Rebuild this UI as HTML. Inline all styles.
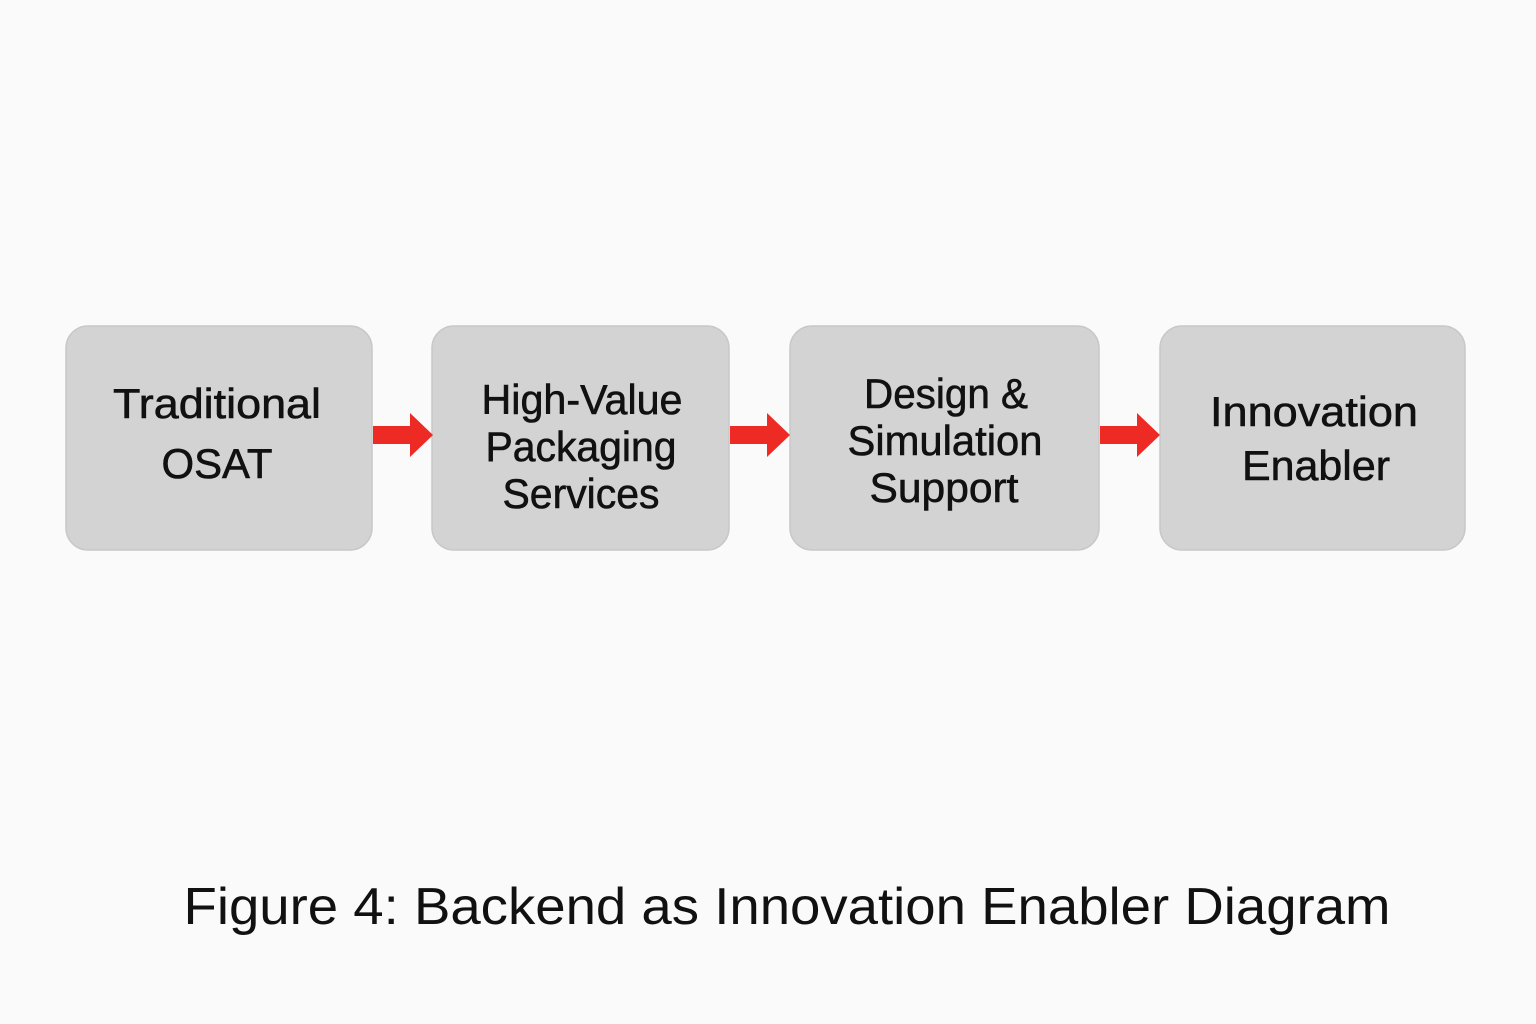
<!DOCTYPE html>
<html><head><style>
html,body{margin:0;padding:0;background:#fafafa;}
svg{display:block}
text{font-family:"Liberation Sans","DejaVu Sans",sans-serif;fill:#111;text-anchor:middle}
</style></head><body>
<svg width="1536" height="1024" viewBox="0 0 1536 1024">
<rect width="1536" height="1024" fill="#fafafa"/>
<g fill="#d3d3d3" stroke="#c8c8c8" stroke-width="1.5">
<rect x="66" y="326" width="306" height="224" rx="22"/>
<rect x="432" y="326" width="297" height="224" rx="22"/>
<rect x="790" y="326" width="309" height="224" rx="22"/>
<rect x="1160" y="326" width="305" height="224" rx="22"/>
</g>
<g fill="#ee2a24">
<polygon points="373,426 410,426 410,413 433,435 410,457 410,444 373,444"/>
<polygon points="730,426 767,426 767,413 790,435 767,457 767,444 730,444"/>
<polygon points="1100,426 1137,426 1137,413 1160,435 1137,457 1137,444 1100,444"/>
</g>
<g font-size="42" stroke="#111" stroke-width="0.6" lengthAdjust="spacingAndGlyphs">
<text x="217" y="418" textLength="208" lengthAdjust="spacingAndGlyphs">Traditional</text>
<text x="217" y="478" textLength="111" lengthAdjust="spacingAndGlyphs">OSAT</text>
<text x="582" y="414" textLength="201" lengthAdjust="spacingAndGlyphs">High-Value</text>
<text x="581" y="461" textLength="191" lengthAdjust="spacingAndGlyphs">Packaging</text>
<text x="581" y="508" textLength="157" lengthAdjust="spacingAndGlyphs">Services</text>
<text x="946" y="408" textLength="164" lengthAdjust="spacingAndGlyphs">Design &amp;</text>
<text x="945" y="455" textLength="195" lengthAdjust="spacingAndGlyphs">Simulation</text>
<text x="944" y="502" textLength="149" lengthAdjust="spacingAndGlyphs">Support</text>
<text x="1314" y="426" textLength="208" lengthAdjust="spacingAndGlyphs">Innovation</text>
<text x="1316" y="480" textLength="148" lengthAdjust="spacingAndGlyphs">Enabler</text>
</g>
<text x="787" y="924" font-size="52" textLength="1207" lengthAdjust="spacingAndGlyphs">Figure 4: Backend as Innovation Enabler Diagram</text>
</svg>
</body></html>
